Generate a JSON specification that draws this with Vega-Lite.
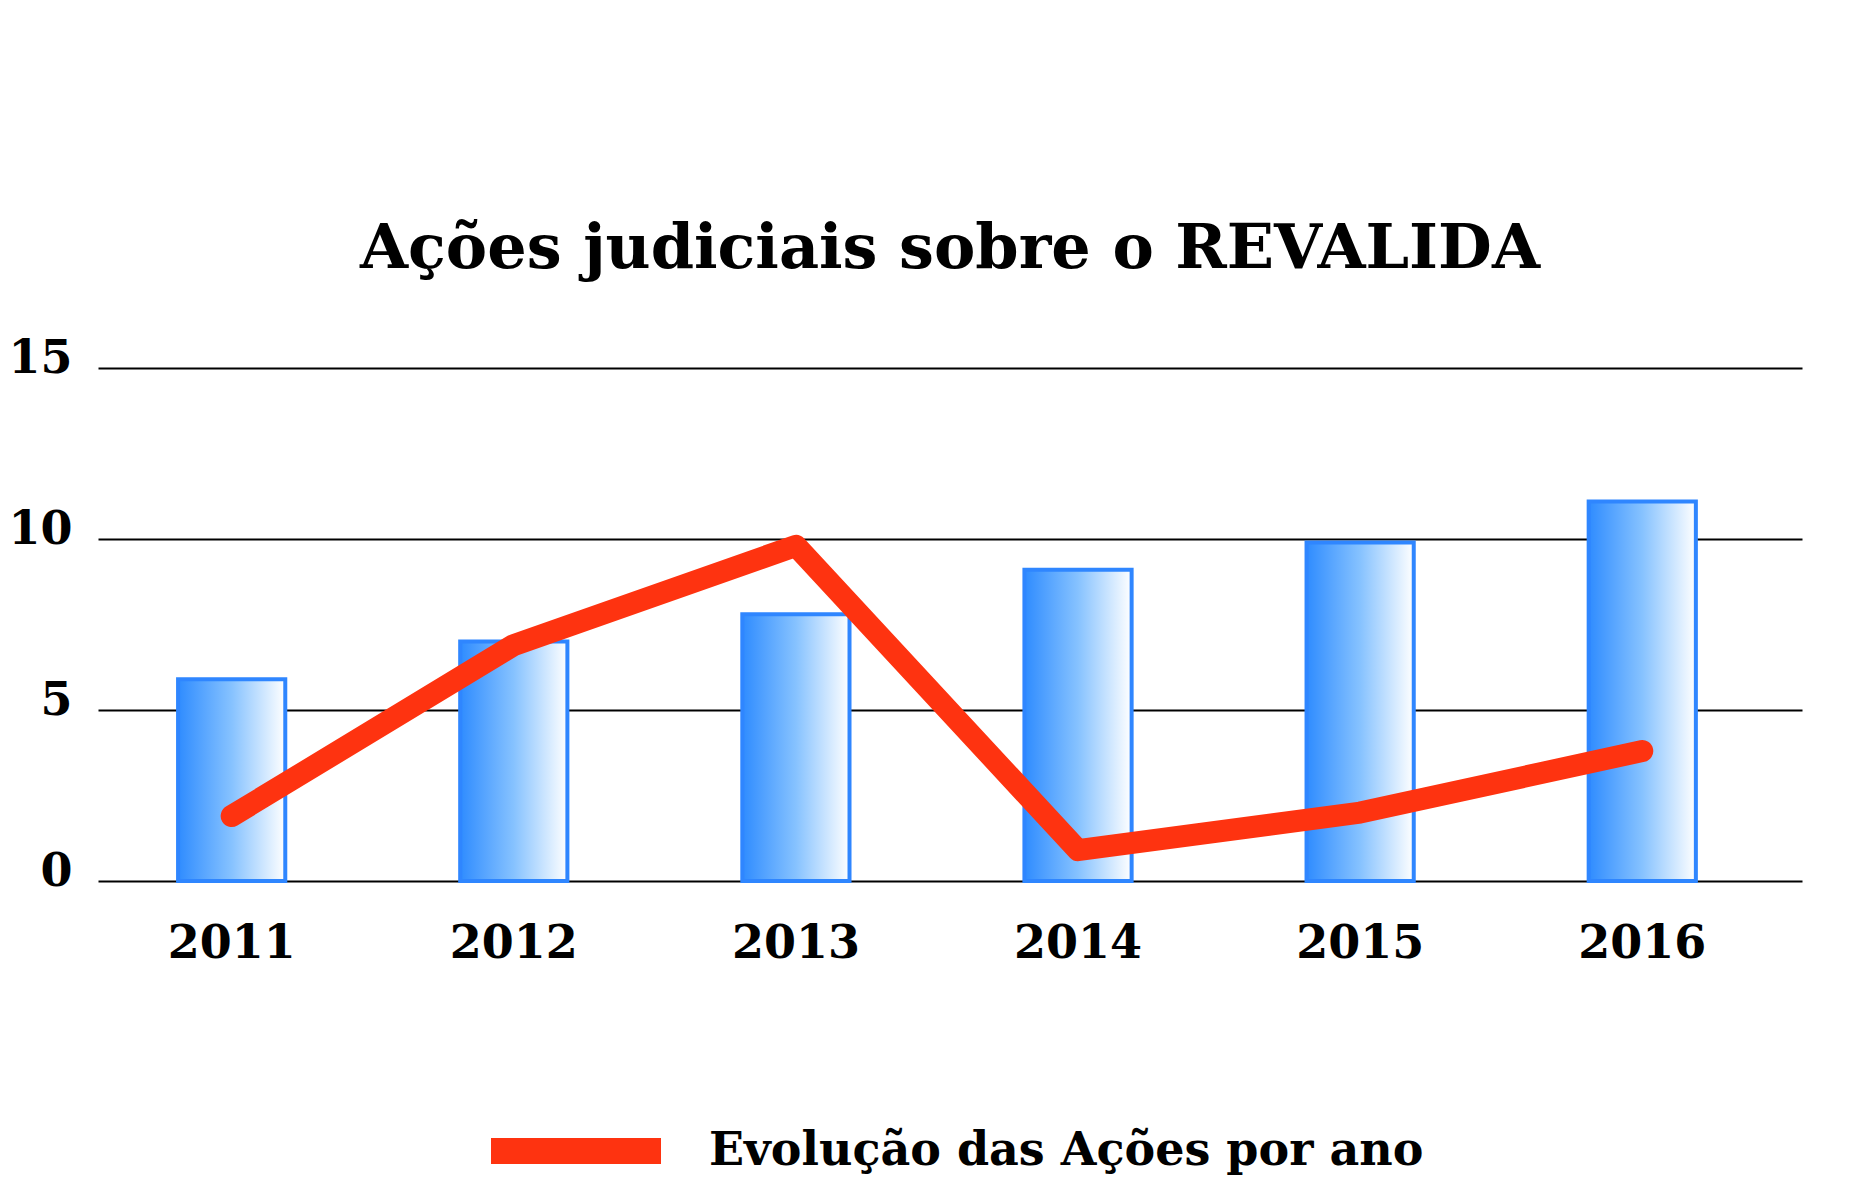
{
  "$schema": "https://vega.github.io/schema/vega-lite/v6.json",
  "autosize": {"type": "none"},
  "width": 1704,
  "height": 513,
  "padding": {"left": 98, "top": 368, "right": 73, "bottom": 301},
  "background": "white",
  "config": {"view": {"stroke": null}},
  "title": {
    "text": "Ações judiciais sobre o REVALIDA",
    "font": "DejaVu Serif",
    "fontWeight": "bold",
    "fontSize": 62,
    "color": "black",
    "anchor": "middle",
    "offset": 54
  },
  "data": {
    "values": [
      {"ano": "2011", "acoes": 5.9, "evolucao": 1.9},
      {"ano": "2012", "acoes": 7.0, "evolucao": 6.9},
      {"ano": "2013", "acoes": 7.8, "evolucao": 9.8},
      {"ano": "2014", "acoes": 9.1, "evolucao": 0.9},
      {"ano": "2015", "acoes": 9.9, "evolucao": 2.0},
      {"ano": "2016", "acoes": 11.1, "evolucao": 3.8}
    ]
  },
  "encoding": {
    "x": {
      "field": "ano",
      "type": "ordinal",
      "scale": {"paddingInner": 0.62, "paddingOuter": 0.33, "align": 0.43},
      "axis": {
        "title": null,
        "domain": false,
        "ticks": false,
        "labelAngle": 0,
        "labelFont": "DejaVu Serif",
        "labelFontWeight": "bold",
        "labelFontSize": 46,
        "labelColor": "black",
        "labelPadding": 40
      }
    }
  },
  "layer": [
    {
      "mark": {
        "type": "bar",
        "fill": {
          "gradient": "linear",
          "x1": 0, "y1": 0, "x2": 1, "y2": 0,
          "stops": [
            {"offset": 0, "color": "#2f8cff"},
            {"offset": 0.5, "color": "#86c2ff"},
            {"offset": 1, "color": "#ffffff"}
          ]
        },
        "stroke": "#2f86ff",
        "strokeWidth": 4
      },
      "encoding": {
        "y": {
          "field": "acoes",
          "type": "quantitative",
          "scale": {"domain": [0, 15], "nice": false},
          "axis": {
            "title": null,
            "values": [0, 5, 10, 15],
            "domain": false,
            "ticks": false,
            "grid": true,
            "gridColor": "black",
            "gridWidth": 2,
            "gridOpacity": 1,
            "labelFont": "DejaVu Serif",
            "labelFontWeight": "bold",
            "labelFontSize": 46,
            "labelColor": "black",
            "labelPadding": 26,
            "labelOffset": -10
          }
        }
      }
    },
    {
      "mark": {
        "type": "line",
        "strokeWidth": 22,
        "strokeCap": "round",
        "strokeJoin": "round",
        "interpolate": "linear"
      },
      "encoding": {
        "y": {"field": "evolucao", "type": "quantitative", "scale": {"domain": [0, 15], "nice": false}},
        "color": {
          "datum": "Evolução das Ações por ano",
          "scale": {"range": ["#fe3310"]},
          "legend": {
            "title": null,
            "orient": "none",
            "legendX": 380,
            "legendY": 685,
            "symbolType": "stroke",
            "symbolSize": 28900,
            "symbolStrokeWidth": 26,
            "symbolStrokeColor": "#ff1a28",
            "labelFont": "DejaVu Serif",
            "labelFontWeight": "bold",
            "labelFontSize": 46,
            "labelColor": "black",
            "labelOffset": 35,
            "labelLimit": 1000
          }
        }
      }
    }
  ]
}
